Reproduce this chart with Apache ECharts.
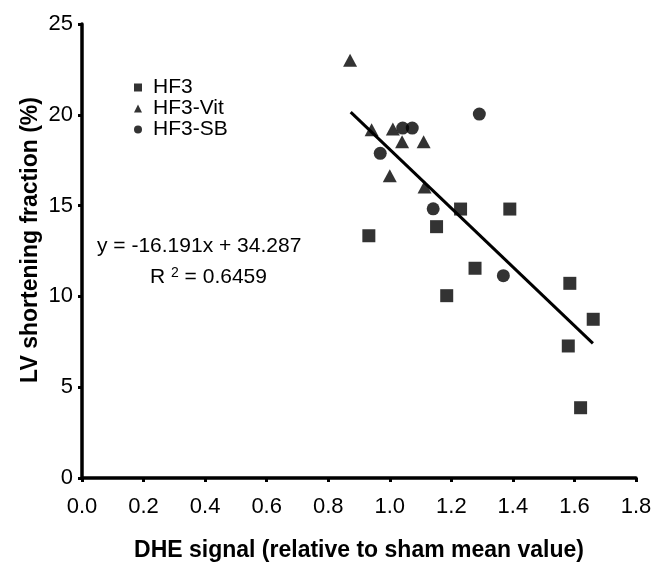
<!DOCTYPE html>
<html>
<head>
<meta charset="utf-8">
<script src="https://cdn.jsdelivr.net/npm/echarts@6/dist/echarts.min.js"></script>
<style>
html,body{margin:0;padding:0;background:#fff;}
#chart{width:659px;height:564px;}
</style>
</head>
<body>
<div id="chart"></div>
<script>
// Data
var seriesNames = ['HF3', 'HF3-Vit', 'HF3-SB'];
var hf3X = [0.932, 1.152, 1.230, 1.390, 1.277, 1.185, 1.585, 1.661, 1.580, 1.620];
var hf3Y = [13.34, 13.84, 14.81, 14.81, 11.55, 10.04, 10.72, 8.74, 7.27, 3.87];
var vitX = [0.871, 0.941, 1.010, 1.040, 1.110, 1.000, 1.113];
var vitY = [23.0, 19.18, 19.22, 18.52, 18.52, 16.65, 16.02];
var sbX = [1.042, 1.073, 0.969, 1.291, 1.141, 1.369];
var sbY = [19.27, 19.27, 17.88, 20.04, 14.82, 11.14];
var trendX = [0.873, 1.660];
var trendY = [20.15, 7.41];
var xTicks = ['0.0','0.2','0.4','0.6','0.8','1.0','1.2','1.4','1.6','1.8'];
var yTicks = ['0','5','10','15','20','25'];
var xTitle = 'DHE signal (relative to sham mean value)';
var yTitle = 'LV shortening fraction (%)';
var equationText = 'y = -16.191x + 34.287';
var r2Value = '0.6459';

function pairs(xs, ys){ return xs.map(function(v,i){return [v, ys[i]];}); }

var font = 'Arial, "Liberation Sans", sans-serif';
var chart = echarts.init(document.getElementById('chart'), null, {renderer:'canvas'});
chart.setOption({
  animation: false,
  backgroundColor: '#fff',
  grid: {left: 82, right: 23, top: 24, bottom: 86, containLabel: false, outerBoundsMode: 'none'},
  xAxis: {
    type: 'value', min: 0, max: 1.8, interval: 0.2,
    name: xTitle,
    nameLocation: 'middle', nameGap: 61,
    nameTextStyle: {fontFamily: font, fontSize: 23, fontWeight: 'bold', color: '#000'},
    axisLine: {show: true, lineStyle: {color: '#000', width: 3.5}},
    axisTick: {show: true, length: 4, lineStyle: {color: '#000', width: 3}},
    axisLabel: {fontFamily: font, fontSize: 22, color: '#000', margin: 18,
      formatter: function(v){ return xTicks[Math.round(v/0.2)]; }},
    splitLine: {show: false}
  },
  yAxis: {
    type: 'value', min: 0, max: 25, interval: 5,
    axisLine: {show: true, lineStyle: {color: '#000', width: 3.5}},
    axisTick: {show: true, length: 4, lineStyle: {color: '#000', width: 3}},
    axisLabel: {fontFamily: font, fontSize: 22, color: '#000', margin: 9,
      formatter: function(v){ return yTicks[Math.round(v/5)]; }},
    splitLine: {show: false}
  },
  legend: {
    orient: 'vertical', left: 134, top: 77, itemWidth: 8, itemHeight: 8, itemGap: 0,
    padding: 0,
    textStyle: {fontFamily: font, fontSize: 21, lineHeight: 19.5, color: '#000', padding: [0,0,0,6]},
    data: [
      {name: seriesNames[0], icon: 'rect'},
      {name: seriesNames[1], icon: 'triangle'},
      {name: seriesNames[2], icon: 'circle'}
    ]
  },
  series: [
    {name: seriesNames[0], type: 'scatter', symbol: 'rect', symbolSize: 13,
     itemStyle: {color: '#000'}, data: pairs(hf3X, hf3Y), z: 3},
    {name: seriesNames[1], type: 'scatter', symbol: 'triangle', symbolSize: [14, 13],
     itemStyle: {color: '#000'}, data: pairs(vitX, vitY), z: 3},
    {name: seriesNames[2], type: 'scatter', symbol: 'circle', symbolSize: 13,
     itemStyle: {color: '#000'}, data: pairs(sbX, sbY), z: 3},
    {name: 'trend', type: 'line', data: pairs(trendX, trendY), symbol: 'none',
     lineStyle: {color: '#000', width: 3}, z: 4, silent: true}
  ],
  graphic: [
    {type: 'text', x: 31, y: 240, rotation: Math.PI / 2,
     style: {text: yTitle, font: 'bold 23px ' + font, fill: '#000', align: 'center', verticalAlign: 'middle'}},
    {type: 'text', x: 97, y: 246, style: {text: equationText, font: '21px ' + font, fill: '#000', verticalAlign: 'middle'}},
    {type: 'text', x: 150, y: 277, style: {
      text: '{r|R }{s|2}{r| = ' + r2Value + '}',
      verticalAlign: 'middle',
      rich: {r: {fontFamily: font, fontSize: 21, color: '#000', lineHeight: 22},
             s: {fontFamily: font, fontSize: 14, color: '#000', verticalAlign: 'top', lineHeight: 22, padding: [0,0,6,0]}}
    }}
  ]
});
</script>
</body>
</html>
